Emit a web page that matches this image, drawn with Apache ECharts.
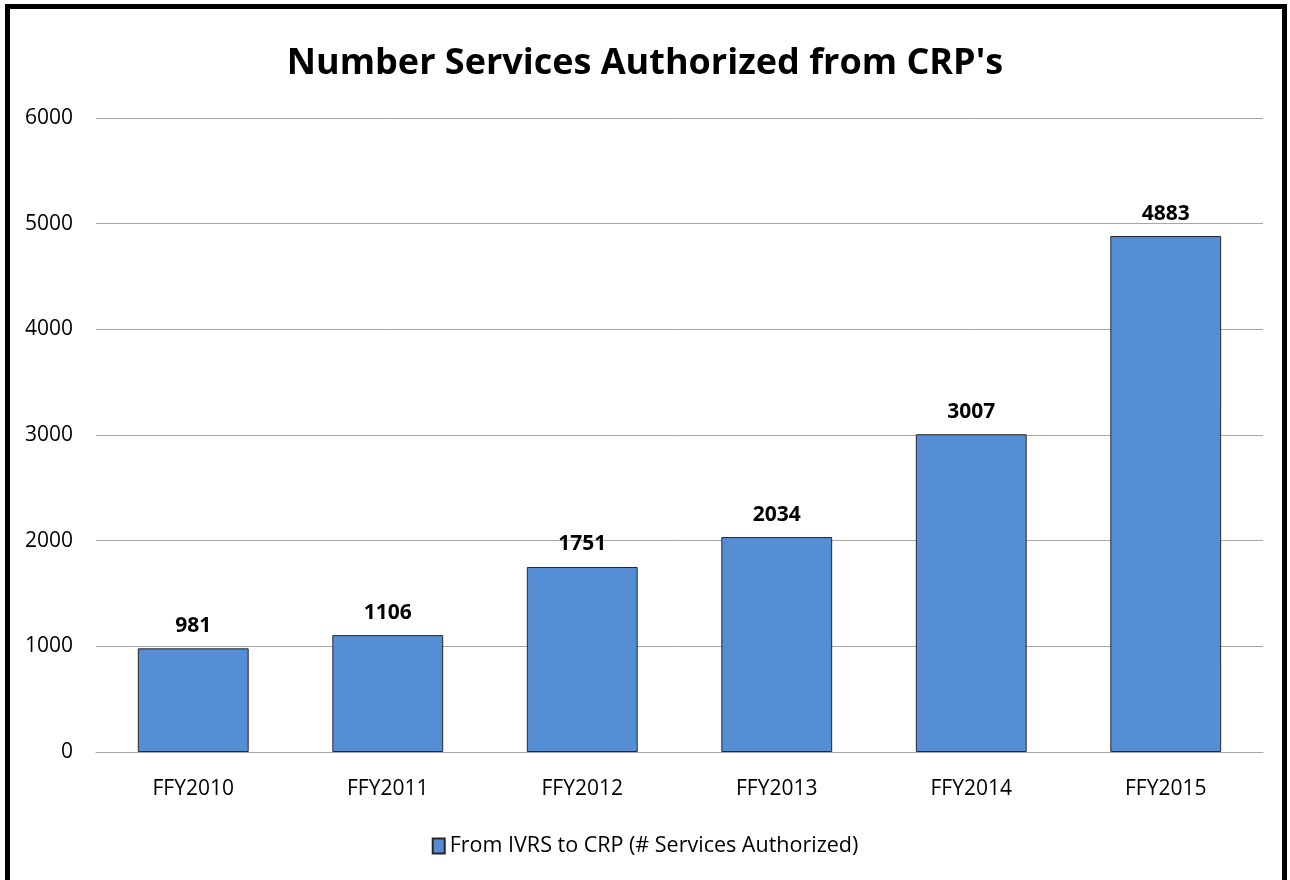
<!DOCTYPE html>
<html><head><meta charset="utf-8">
<script src="https://cdn.jsdelivr.net/npm/echarts@6/dist/echarts.min.js"></script>
<style>
html,body{margin:0;padding:0;background:#fff;}
#frame{position:absolute;left:5px;top:4px;width:1272px;height:900px;border:5px solid #000;border-bottom:none;}
#chart{position:absolute;left:0;top:0;width:1290px;height:880px;}
</style></head>
<body>
<div id="frame"></div>
<div id="chart"></div>
<script>
const categories = ['FFY2010','FFY2011','FFY2012','FFY2013','FFY2014','FFY2015'];
const servicesAuthorized = [981, 1106, 1751, 2034, 3007, 4883];
const seriesName = 'From IVRS to CRP (# Services Authorized)';
const titleText = "Number Services Authorized from CRP's";
const FONT = '"Open Sans", "Noto Sans", sans-serif';

const chart = echarts.init(document.getElementById('chart'));
chart.setOption({
  animation: false,
  backgroundColor: 'transparent',
  title: {
    text: titleText,
    left: 'center',
    top: 41,
    textStyle: {fontFamily: FONT, fontWeight: 'bold', fontSize: 36, color: '#000'}
  },
  grid: {left: 96, right: 27, top: 118, bottom: 128, containLabel: false},
  legend: {
    bottom: 18,
    left: 'center',
    itemWidth: 12,
    itemHeight: 15,
    itemGap: 8,
    textStyle: {fontFamily: FONT, fontSize: 21.5, color: '#000'},
    data: [{name: seriesName, icon: 'rect'}]
  },
  xAxis: {
    type: 'category',
    data: categories,
    axisLine: {lineStyle: {color: '#A6A6A6', width: 1}},
    axisTick: {show: false},
    axisLabel: {fontFamily: FONT, fontSize: 21, color: '#000', margin: 27}
  },
  yAxis: {
    type: 'value',
    min: 0, max: 6000, interval: 1000,
    axisLine: {show: false},
    axisTick: {show: false},
    splitLine: {lineStyle: {color: '#A6A6A6', width: 1}},
    axisLabel: {fontFamily: FONT, fontSize: 21, color: '#000', margin: 23,
      formatter: function (v) { return String(v); }}
  },
  series: [{
    name: seriesName,
    type: 'bar',
    data: servicesAuthorized,
    barCategoryGap: '43%',
    itemStyle: {color: '#558ED5', borderColor: '#262626', borderWidth: 1},
    label: {
      show: true, position: 'top', distance: 12,
      fontFamily: FONT, fontWeight: 'bold', fontSize: 21, color: '#000'
    }
  }]
});
</script>
</body></html>
